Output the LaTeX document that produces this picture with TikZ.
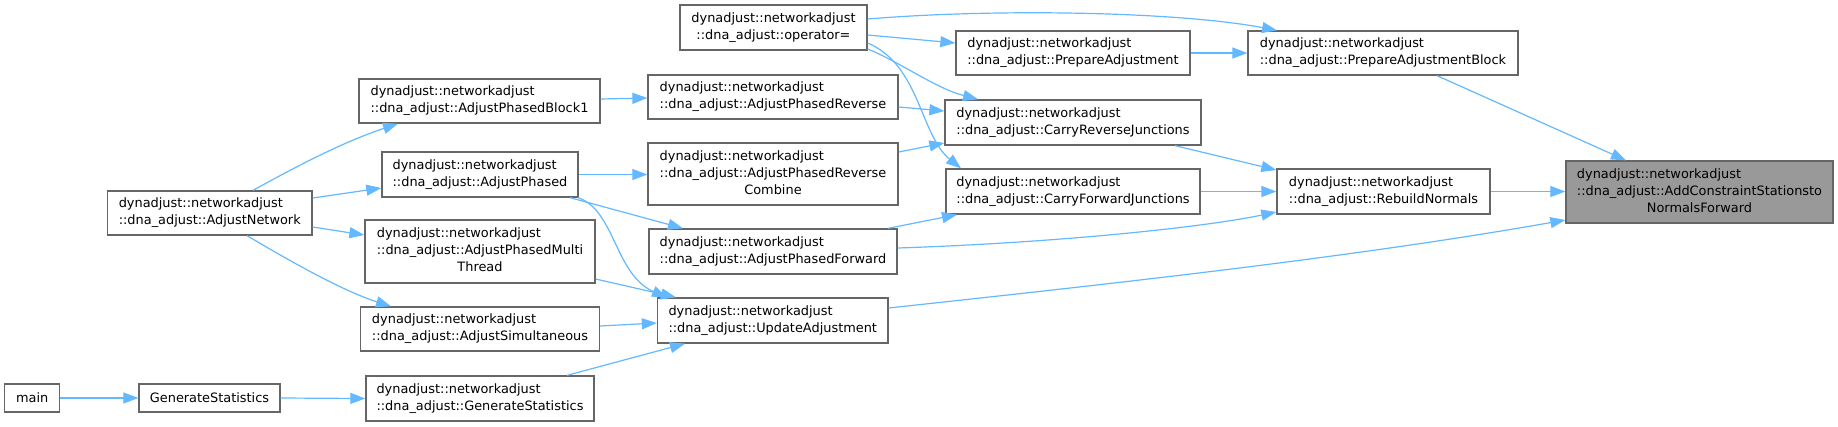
\documentclass[tikz,border=0pt]{standalone}
\usepackage{fontspec}
\setmainfont{DejaVu Sans}
\usetikzlibrary{arrows.meta}
\definecolor{edgeblue}{HTML}{63B8FF}
\definecolor{boxgray}{HTML}{666666}
\definecolor{focusfill}{HTML}{999999}
\newcommand\twol[2]{\begin{tabular}{@{}l@{}}#1\\\multicolumn{1}{@{}c@{}}{#2}\end{tabular}}
\newcommand\threel[3]{\begin{tabular}{@{}l@{}}#1\\#2\\\multicolumn{1}{@{}c@{}}{#3}\end{tabular}}
\newcommand\dn{dynadjust::networkadjust}
\begin{document}
\begin{tikzpicture}[x=1pt,y=-1pt,
  fn/.style={draw=boxgray, fill=white, line width=1.3pt, inner sep=0pt, rectangle,
    font=\fontsize{12.9}{17}\selectfont},
  focus/.style={fn, fill=focusfill},
  call/.style={draw=edgeblue, line width=1.2pt, -{Triangle[length=15pt,width=11pt]}}]
\useasboundingbox (0,0) rectangle (1838,426);

% column 1-2
\node[fn, minimum width=55pt, minimum height=28pt] (main) at (32.2,398) {main};
\node[fn, minimum width=141pt, minimum height=28pt] (genstat) at (209.5,398) {GenerateStatistics};
\node[fn, minimum width=204.5pt, minimum height=44pt] (network) at (209.75,213) {\twol{\dn}{::dna\_adjust::AdjustNetwork}};

% column 3
\node[fn, minimum width=241pt, minimum height=44pt] (block1) at (479.5,101) {\twol{\dn}{::dna\_adjust::AdjustPhasedBlock1}};
\node[fn, minimum width=196pt, minimum height=45pt] (phased) at (480,174.5) {\twol{\dn}{::dna\_adjust::AdjustPhased}};
\node[fn, minimum width=230pt, minimum height=63pt] (multi) at (480,251.5) {\threel{\dn}{::dna\_adjust::AdjustPhasedMulti}{Thread}};
\node[fn, minimum width=239pt, minimum height=44pt] (simul) at (480,329) {\twol{\dn}{::dna\_adjust::AdjustSimultaneous}};
\node[fn, minimum width=228pt, minimum height=45pt] (dnagen) at (480,398.5) {\twol{\dn}{::dna\_adjust::GenerateStatistics}};

% column 4
\node[fn, minimum width=187pt, minimum height=45pt] (opeq) at (773.5,27.5) {\twol{\dn}{::dna\_adjust::operator=}};
\node[fn, minimum width=250pt, minimum height=44pt] (rev) at (773,97) {\twol{\dn}{::dna\_adjust::AdjustPhasedReverse}};
\node[fn, minimum width=250pt, minimum height=62pt] (revcomb) at (773,174) {\threel{\dn}{::dna\_adjust::AdjustPhasedReverse}{Combine}};
\node[fn, minimum width=248pt, minimum height=45pt] (fwd) at (773,251.5) {\twol{\dn}{::dna\_adjust::AdjustPhasedForward}};
\node[fn, minimum width=230.5pt, minimum height=45pt] (update) at (772.75,320.5) {\twol{\dn}{::dna\_adjust::UpdateAdjustment}};

% column 5
\node[fn, minimum width=234pt, minimum height=44pt] (prepadj) at (1073,53) {\twol{\dn}{::dna\_adjust::PrepareAdjustment}};
\node[fn, minimum width=256pt, minimum height=45pt] (carryrev) at (1073,122.5) {\twol{\dn}{::dna\_adjust::CarryReverseJunctions}};
\node[fn, minimum width=254pt, minimum height=45pt] (carryfwd) at (1073,191.5) {\twol{\dn}{::dna\_adjust::CarryForwardJunctions}};

% column 6
\node[fn, minimum width=270pt, minimum height=44pt] (prepblk) at (1383,53) {\twol{\dn}{::dna\_adjust::PrepareAdjustmentBlock}};
\node[fn, minimum width=213pt, minimum height=45pt] (rebuild) at (1383.5,191.5) {\twol{\dn}{::dna\_adjust::RebuildNormals}};

% column 7
\node[focus, minimum width=267pt, minimum height=62pt] (addc) at (1699.5,192) {\threel{\dn}{::dna\_adjust::AddConstraintStationsto}{NormalsForward}};

% edges
\draw[call] (main.east) -- (genstat.west);
\draw[call] (genstat.east) -- (dnagen.west);
\draw[call] (253,0 |- network.north) .. controls (290,170) and (340,143) .. (398,0 |- block1.south);
\draw[call] (network.east |- 0,198) -- (phased.west |- 0,188);
\draw[call] (network.east |- 0,227) -- (multi.west |- 0,235);
\draw[call] (247,0 |- network.south) .. controls (285,258) and (340,290) .. (391,0 |- simul.north);
\draw[call] (block1.east |- 0,99) -- (rev.west |- 0,98);
\draw[call] (phased.east) -- (revcomb.west |- phased.east);
\draw[call] (570,0 |- phased.south) -- (683,0 |- fwd.north);
\draw[call] (578,0 |- phased.south) .. controls (615,210) and (615,275) .. (667,0 |- update.north);
\draw[call] (multi.east |- 0,279) -- (676,0 |- update.north);
\draw[call] (simul.east |- 0,326) -- (update.west |- 0,323);
\draw[call] (567,0 |- dnagen.north) -- (685,0 |- update.south);
\draw[call] (opeq.east |- 0,19) .. controls (1000,8) and (1180,12) .. (1277,0 |- prepblk.north);
\draw[call] (opeq.east |- 0,35) -- (prepadj.west |- 0,43);
\draw[call] (opeq.east |- 0,49) .. controls (900,62) and (935,88) .. (978,0 |- carryrev.north);
\draw[call] (opeq.east |- 0,43) .. controls (920,65) and (920,135) .. (961,0 |- carryfwd.north);
\draw[call] (prepadj.east) -- (prepblk.west);
\draw[call] (rev.east |- 0,107) -- (carryrev.west |- 0,111);
\draw[call] (revcomb.east |- 0,152) -- (carryrev.west |- 0,143);
\draw[call] (888,0 |- fwd.north) -- (957,0 |- carryfwd.south);
\draw[call] (fwd.east |- 0,248) .. controls (1050,243) and (1200,228) .. (rebuild.west |- 0,212);
\draw[call] (1175,0 |- carryrev.south) -- (rebuild.west |- 0,170);
\draw[call] (carryfwd.east) -- (rebuild.west);
\draw[call] (1437,0 |- prepblk.south) -- (1626,0 |- addc.north);
\draw[call] (rebuild.east) -- (addc.west |- rebuild.east);
\draw[call] (update.east |- 0,308) .. controls (1100,285) and (1350,258) .. (addc.west |- 0,220);
\end{tikzpicture}
\end{document}
